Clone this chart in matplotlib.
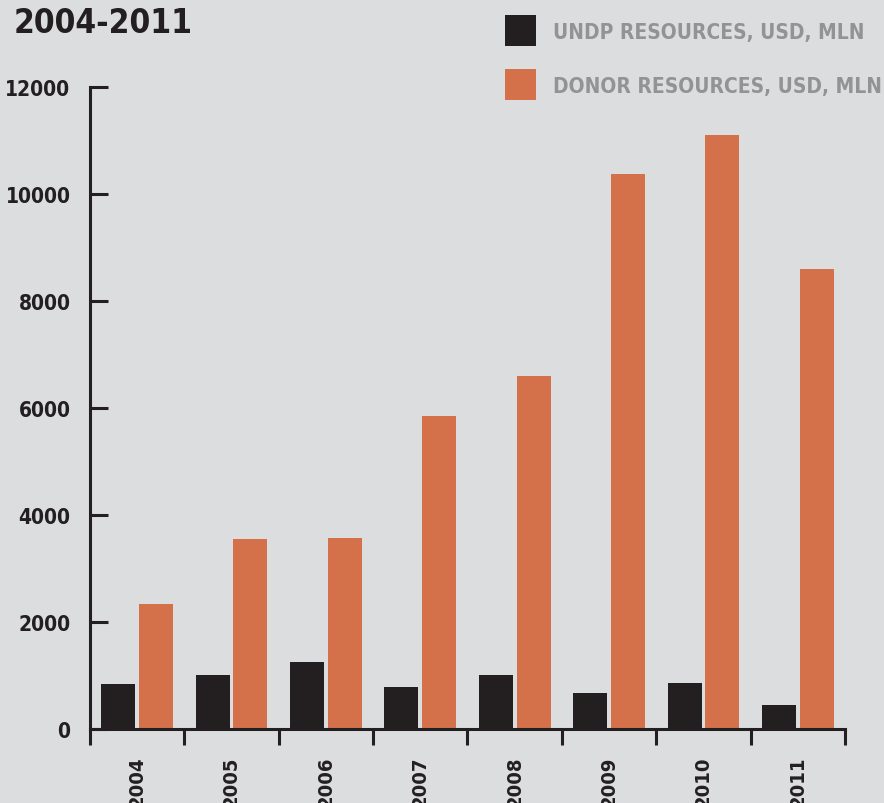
import numpy as np
import matplotlib
matplotlib.use("Agg")
import matplotlib.pyplot as plt
from matplotlib import font_manager as fm
from matplotlib.patches import Rectangle

years = ['2004', '2005', '2006', '2007', '2008', '2009', '2010', '2011']
undp = [840, 1010, 1255, 790, 1010, 675, 860, 450]
donor = [2340, 3550, 3565, 5845, 6590, 10365, 11100, 8595]
y_ticks = [0, 2000, 4000, 6000, 8000, 10000, 12000]

BG = '#dcdddf'
DARK = '#231f20'
ORANGE = '#d4714a'
GREY = '#939393'

# pick the narrowest bold face that is installed
fonts = fm.fontManager.ttflist
names = {f.name for f in fonts}
stretch = 'normal'
family = 'DejaVu Sans'
if 'Liberation Sans Narrow' in names:
    family = 'Liberation Sans Narrow'
elif any(f.name == 'DejaVu Sans' and 'ondensed' in f.fname for f in fonts):
    family, stretch = 'DejaVu Sans', 'condensed'
elif 'Roboto Condensed' in names:
    family = 'Roboto Condensed'
elif 'Roboto' in names:
    family = 'Roboto'

plt.rcParams['font.family'] = [family, 'DejaVu Sans']
plt.rcParams['font.weight'] = 'bold'
plt.rcParams['font.stretch'] = stretch

fig = plt.figure(figsize=(8.84, 8.04), dpi=100, facecolor=BG)
ax = fig.add_axes([90 / 884, 1 - 730 / 804, 755 / 884, 642 / 804])
ax.set_facecolor(BG)

x = np.arange(len(years))
w = 0.36
ax.bar(x - 0.2, undp, width=w, color=DARK)
ax.bar(x + 0.2, donor, width=w, color=ORANGE)

ax.set_xlim(-0.5, len(years) - 0.5)
ax.set_ylim(0, 12000)

for s in ['top', 'right']:
    ax.spines[s].set_visible(False)
for s in ['left', 'bottom']:
    ax.spines[s].set_linewidth(2.2)
    ax.spines[s].set_color(DARK)

ax.set_yticks(y_ticks)
ax.set_yticklabels([str(v) for v in y_ticks])
ax.tick_params(axis='y', direction='in', length=13, width=2.2, color=DARK,
               pad=14, labelsize=15, labelcolor=DARK)

# boundaries get the tick marks, centres get the year labels
ax.set_xticks(np.arange(-0.5, len(years), 1.0))
ax.set_xticklabels([])
ax.tick_params(axis='x', which='major', direction='out', length=11.5,
               width=2.2, color=DARK)
ax.set_xticks(x, minor=True)
ax.set_xticklabels(years, minor=True, rotation=90)
ax.tick_params(axis='x', which='minor', length=0, pad=19, labelsize=14.5,
               labelcolor=DARK)

fig.text(14 / 884, 1 - 33 / 804, '2004-2011', fontsize=24, color=DARK,
         va='baseline', ha='left')

# legend
labels = ['UNDP RESOURCES, USD, MLN', 'DONOR RESOURCES, USD, MLN']
colors = [DARK, ORANGE]
for i, (lab, c) in enumerate(zip(labels, colors)):
    yc = 31 + 54 * i
    fig.add_artist(Rectangle((505 / 884, 1 - (yc + 15.5) / 804), 31 / 884, 31 / 804,
                             transform=fig.transFigure, color=c, lw=0))
    fig.text(553 / 884, 1 - (yc + 8) / 804, lab, fontsize=15, color=GREY,
             va='baseline', ha='left')

fig.savefig('out.png', dpi=100, facecolor=BG)
